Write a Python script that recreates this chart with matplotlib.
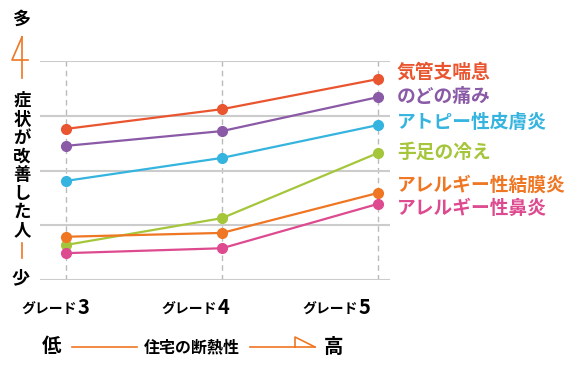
import matplotlib
matplotlib.use("Agg")
import matplotlib.pyplot as plt
from matplotlib.lines import Line2D

plt.rcParams['font.family'] = ['Noto Sans CJK JP', 'DejaVu Sans']

# データ
grades = ['3', '4', '5']
symptoms = ['気管支喘息', 'のどの痛み', 'アトピー性皮膚炎', '手足の冷え',
            'アレルギー性結膜炎', 'アレルギー性鼻炎']
asthma = [2.76, 3.12, 3.67]
throat = [2.45, 2.72, 3.34]
atopy = [1.81, 2.23, 2.83]
cold_limbs = [0.64, 1.13, 2.32]
conjunctivitis = [0.79, 0.86, 1.59]
rhinitis = [0.49, 0.58, 1.39]
series = [asthma, throat, atopy, cold_limbs, conjunctivitis, rhinitis]
colors = ['#e9552f', '#8a5aa6', '#35b4df', '#a5c63b', '#ef7622', '#dd4a8f']
label_y = [72, 97, 122, 152, 185, 208]   # ラベル位置(px)

W, H = 581, 365
fig = plt.figure(figsize=(W / 100, H / 100), dpi=100)
ax = fig.add_axes([40 / W, 1 - 280 / H, 350 / W, 219 / H])

x = list(range(len(grades)))
for xi in x:
    ax.axvline(xi, color='#bbbbbb', lw=1, ls=(0, (4, 3)), zorder=1)
for yv in range(0, 5):
    ax.axhline(yv, color='#cccccc', lw=1.5, zorder=1)
for vals, c in zip(series, colors):
    ax.plot(x, vals, color=c, lw=1.6, marker='o', ms=7, zorder=3)

ax.set_xlim(-26 / 156, 2 + 12 / 156)
ax.set_ylim(0, 4)
ax.axis('off')

def px(xp, yp):
    return xp / W, 1 - yp / H

# 右側ラベル
for name, c, yp in zip(symptoms, colors, label_y):
    fig.text(*px(397, yp), name, color=c, fontsize=13.5, fontweight='bold', va='center', ha='left')

# 縦軸の説明
fig.text(*px(21, 19), '多', fontsize=13, fontweight='bold', ha='center', va='center')
fig.text(*px(21, 278), '少', fontsize=13, fontweight='bold', ha='center', va='center')
vert = '症状が改善した人'
for i, ch in enumerate(vert):
    fig.text(*px(22, 101 + i * 18.5), ch, fontsize=12.5, fontweight='bold', ha='center', va='center')

orange = '#ef7622'
def fline(xs, ys):
    fx = [v / W for v in xs]
    fy = [1 - v / H for v in ys]
    fig.add_artist(Line2D(fx, fy, color=orange, lw=1.2))

fline([22, 22], [37, 78])
fline([22, 12, 28], [37, 60, 60])
fline([22, 22], [243, 258])

# 横軸ラベル
digit_x = [79, 219, 360]
for g, dx in zip(grades, digit_x):
    fig.text(*px(dx - 2, 310), 'グレード', fontsize=10, fontweight='bold', ha='right', va='center')
    fig.text(*px(dx - 1, 308), g, fontsize=14.5, fontweight='bold', ha='left', va='center',
             fontstretch='condensed')

fig.text(*px(52, 347), '低', fontsize=14, fontweight='bold', ha='center', va='center')
fig.text(*px(192, 347), '住宅の断熱性', fontsize=11.5, fontweight='bold', ha='center', va='center')
fig.text(*px(334, 347), '高', fontsize=14, fontweight='bold', ha='center', va='center')
fline([72, 137], [347, 347])
fline([250, 315], [347, 347])
fline([295, 295, 315], [347, 337, 347])

fig.savefig('out.png', dpi=100, facecolor='white')
